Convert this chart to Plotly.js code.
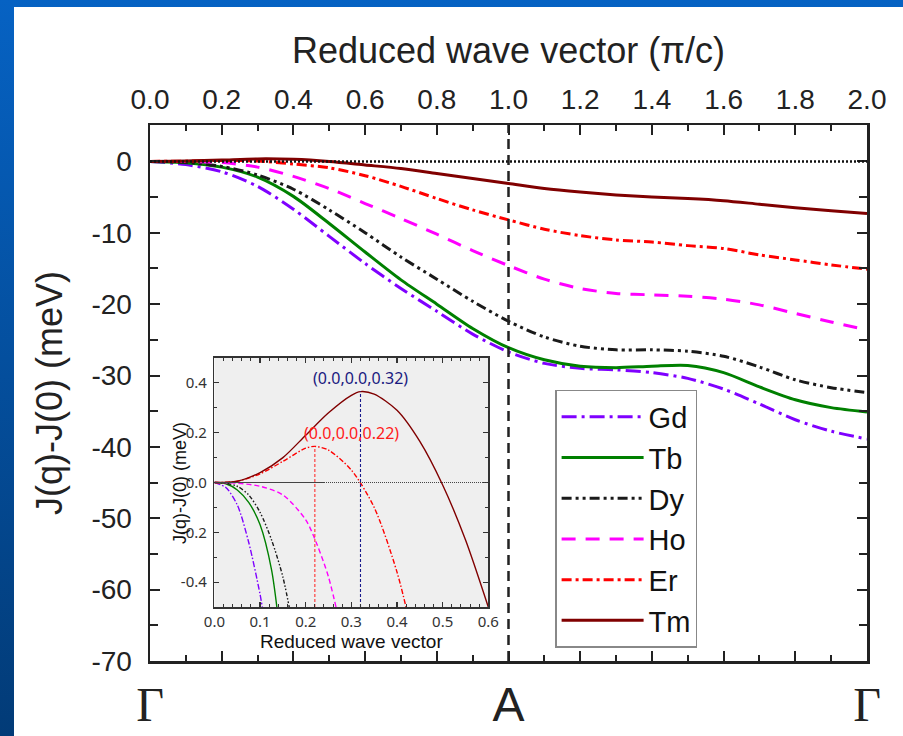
<!DOCTYPE html>
<html><head><meta charset="utf-8">
<script src="https://cdn.plot.ly/plotly-3.0.1.min.js"></script>
<style>
html,body{margin:0;padding:0;width:903px;height:736px;overflow:hidden;background:linear-gradient(180deg,#0662c3 0%,#023b77 100%);}
#chart{position:absolute;left:14px;top:7px;width:889px;height:729px;background:#fff;}
</style></head><body><div id="chart"></div>
<script>
// ---- main panel data: J(q)-J(0) in meV vs reduced wave vector (pi/c) ----
const q  = [0,0.1,0.2,0.3,0.4,0.5,0.6,0.7,0.8,0.9,1.0,1.1,1.2,1.3,1.4,1.5,1.6,1.7,1.8,1.9,2.0];
const gd = [0,-0.45,-1.45,-3.5,-6.7,-10.5,-14.3,-17.8,-21.0,-24.2,-26.7,-28.3,-29.0,-29.2,-29.6,-30.4,-31.9,-34.0,-36.2,-37.8,-38.9];
const tb = [0,-0.18,-0.8,-2.2,-4.9,-8.7,-12.7,-16.6,-20.0,-23.4,-26.1,-27.8,-28.7,-28.9,-28.7,-28.6,-29.6,-31.6,-33.4,-34.5,-35.1];
const dy = [0,-0.12,-0.7,-1.9,-3.9,-6.8,-10.0,-13.4,-16.5,-19.6,-22.4,-24.6,-25.9,-26.4,-26.4,-26.6,-27.3,-28.8,-30.6,-31.7,-32.4];
const ho = [0,-0.015,-0.16,-0.8,-2.1,-3.8,-5.9,-8.0,-10.2,-12.5,-14.6,-16.5,-17.8,-18.5,-18.7,-18.9,-19.3,-20.1,-21.3,-22.5,-23.6];
const er = [0,0.035,0.138,0.05,-0.36,-0.9,-2.0,-3.5,-5.2,-6.8,-8.2,-9.5,-10.4,-11.0,-11.3,-11.8,-12.2,-13.1,-13.8,-14.5,-15.1];
const tm = [0,0.04,0.19,0.35,0.29,-0.01,-0.5,-1.0,-1.7,-2.4,-3.1,-3.8,-4.3,-4.7,-5.0,-5.2,-5.5,-6.0,-6.5,-6.9,-7.3];

const names = ['Gd','Tb','Dy','Ho','Er','Tm'];

// ---- inset data (meV) ----
const insGdX = [0,0.025,0.05,0.075,0.1,0.11];
const insGdY = [0,-0.02,-0.09,-0.24,-0.45,-0.56];
const insTbX = [0,0.025,0.05,0.075,0.1,0.125,0.14];
const insTbY = [0,-0.005,-0.03,-0.08,-0.17,-0.35,-0.55];
const insDyX = [0,0.025,0.05,0.075,0.1,0.125,0.15,0.17];
const insDyY = [0,-0.003,-0.015,-0.05,-0.12,-0.23,-0.38,-0.56];
const insHoX = [0,0.05,0.1,0.15,0.2,0.225,0.25,0.275];
const insHoY = [0,-0.003,-0.015,-0.05,-0.15,-0.25,-0.38,-0.57];
const insErX = [0,0.05,0.1,0.15,0.2,0.22,0.25,0.3,0.35,0.4,0.43];
const insErY = [0,0.005,0.035,0.085,0.138,0.145,0.13,0.05,-0.1,-0.36,-0.58];
const insTmX = [0,0.05,0.1,0.15,0.2,0.25,0.3,0.32,0.35,0.4,0.45,0.5,0.55,0.6];
const insTmY = [0,0.005,0.04,0.1,0.19,0.28,0.35,0.365,0.355,0.29,0.165,-0.01,-0.23,-0.5];

// ---- tick labels ----
const topTickVals = [0,0.2,0.4,0.6,0.8,1.0,1.2,1.4,1.6,1.8,2.0];
const topTickText = ['0.0','0.2','0.4','0.6','0.8','1.0','1.2','1.4','1.6','1.8','2.0'];
const symPoints = ['Γ','','','','','<span style="font-family:Liberation Sans, Arial, sans-serif">A</span>','','','','','Γ'];
const yTickVals = [0,-10,-20,-30,-40,-50,-60,-70];
const yTickText = ['0','-10','-20','-30','-40','-50','-60','-70'];
const insXTickVals = [0,0.1,0.2,0.3,0.4,0.5,0.6];
const insXTickText = ['0.0','0.1','0.2','0.3','0.4','0.5','0.6'];
const insYTickVals = [-0.4,-0.2,0,0.2,0.4];
const insYTickText = ['-0.4','-0.2','0.0','0.2','0.4'];
const zoneBoundary = [1.0];

const colors = ['#7f00ff','#008000','#1a1a1a','#ff00ff','#ff0000','#800000'];
const dashes = ['15px,5px,3px,5px','solid','10px,4px,3px,4px,3px,4px','14px,10px','10px,4px,3px,4px','solid'];
const insDashes = ['6px,2px,1.5px,2px','solid','4px,2px,1.5px,2px,1.5px,2px','5px,3px','5px,2px,1.5px,2px','solid'];

const mainY = [gd,tb,dy,ho,er,tm];
const insX = [insGdX,insTbX,insDyX,insHoX,insErX,insTmX];
const insY = [insGdY,insTbY,insDyY,insHoY,insErY,insTmY];

const traces = [];
names.forEach((n,i)=>{
  traces.push({x:q, y:mainY[i], name:n, type:'scatter', mode:'lines', xaxis:'x', yaxis:'y',
    line:{color:colors[i], width:3, dash:dashes[i], shape:'spline', smoothing:0.8}});
});
// invisible carrier so the top (pi/c) axis is drawn
traces.push({x:q, y:tm, xaxis:'x2', yaxis:'y', mode:'lines', opacity:0, showlegend:false, hoverinfo:'skip', line:{width:0}});
names.forEach((n,i)=>{
  traces.push({x:insX[i], y:insY[i], name:n, type:'scatter', mode:'lines', xaxis:'x3', yaxis:'y3',
    showlegend:false, line:{color:colors[i], width:1.4, dash:insDashes[i], shape:'spline', smoothing:0.8}});
});

// peak markers in inset (Tm and Er maxima)
function peakOf(xs, ys){ let k=0; ys.forEach((v,j)=>{ if(v>ys[k]) k=j; }); return [xs[k], ys[k]]; }
const pTm = peakOf(insTmX, insTmY), pEr = peakOf(insErX, insErY);
traces.push({x:[pTm[0],pTm[0]], y:[-0.5,pTm[1]], xaxis:'x3', yaxis:'y3', mode:'lines', showlegend:false, hoverinfo:'skip',
  line:{color:'#1a1a8c', width:1.1, dash:'3px,2px'}});
traces.push({x:[pEr[0],pEr[0]], y:[-0.5,pEr[1]], xaxis:'x3', yaxis:'y3', mode:'lines', showlegend:false, hoverinfo:'skip',
  line:{color:'#ff3030', width:1.1, dash:'3px,2px'}});

const axLine = '#222';
const layout = {
  width:889, height:729,
  paper_bgcolor:'#ffffff', plot_bgcolor:'rgba(0,0,0,0)',
  margin:{l:135.5, r:36, t:118, b:75, pad:0},
  font:{family:'Liberation Sans, Arial, sans-serif', color:'#222'},
  showlegend:true,
  legend:{x:0.565, y:0.5056, xanchor:'left', yanchor:'top', bgcolor:'#fff', bordercolor:'#888', borderwidth:1.5,
    font:{size:29, color:'#111'}, itemwidth:82, traceorder:'normal'},
  xaxis:{domain:[0,1], range:[0,2], anchor:'y', tickmode:'array', tickvals:topTickVals, ticktext:symPoints,
    ticks:'inside', ticklen:10, tickwidth:2, tickcolor:axLine,
    minor:{tickmode:'linear', tick0:0, dtick:0.1, ticks:'inside', ticklen:6, tickwidth:2, tickcolor:axLine},
    showline:true, linewidth:2.5, linecolor:axLine, showgrid:false, zeroline:false,
    tickfont:{family:'Liberation Serif, Times New Roman, serif', size:48, color:'#222'}, ticklabelstandoff:0},
  xaxis2:{overlaying:'x', side:'top', anchor:'y', range:[0,2], tickmode:'array', tickvals:topTickVals, ticktext:topTickText,
    ticks:'inside', ticklen:10, tickwidth:2, tickcolor:axLine,
    minor:{tickmode:'linear', tick0:0, dtick:0.1, ticks:'inside', ticklen:6, tickwidth:2, tickcolor:axLine},
    showline:true, linewidth:2.5, linecolor:axLine, showgrid:false, zeroline:false,
    tickfont:{size:28, color:'#222'}, ticklabelstandoff:2,
    title:{text:'Reduced wave vector (π/c)', font:{size:36, color:'#222'}, standoff:10}},
  yaxis:{domain:[0,1], range:[-70,5.1], anchor:'x', tickmode:'array', tickvals:yTickVals, ticktext:yTickText,
    ticks:'inside', ticklen:10, tickwidth:2, tickcolor:axLine, mirror:'ticks',
    minor:{tickmode:'linear', tick0:0, dtick:5, ticks:'inside', ticklen:8, tickwidth:2, tickcolor:axLine},
    showline:true, linewidth:2.5, linecolor:axLine, showgrid:false, zeroline:false,
    tickfont:{size:28, color:'#222'}, ticklabelstandoff:10,
    title:{text:'J(q)-J(0) (meV)', font:{size:36, color:'#222'}, standoff:18}},
  xaxis3:{domain:[0.0899,0.4718], anchor:'y3', range:[0,0.6], tickmode:'array', tickvals:insXTickVals, ticktext:insXTickText,
    ticks:'inside', ticklen:5, tickwidth:1.2, tickcolor:'#333', mirror:'ticks',
    minor:{tickmode:'linear', tick0:0, dtick:0.02, ticks:'inside', ticklen:3, tickwidth:1, tickcolor:'#333'},
    showline:true, linewidth:1.6, linecolor:'#333', showgrid:false, zeroline:false,
    tickfont:{family:'Noto Sans, sans-serif', size:15, color:'#333'}, ticklabelstandoff:0},
  yaxis3:{domain:[0.1007,0.5653], anchor:'x3', range:[-0.5,0.5], tickmode:'array', tickvals:insYTickVals, ticktext:insYTickText,
    ticks:'inside', ticklen:5, tickwidth:1.2, tickcolor:'#333', mirror:'ticks',
    minor:{tickmode:'linear', tick0:0, dtick:0.1, ticks:'inside', ticklen:3, tickwidth:1, tickcolor:'#333'},
    showline:true, linewidth:1.6, linecolor:'#333', showgrid:false, zeroline:false,
    tickfont:{family:'Noto Sans, sans-serif', size:15, color:'#333'}, ticklabelstandoff:3},
  shapes:[
    {type:'rect', xref:'x3 domain', yref:'y3 domain', x0:0, x1:1, y0:0, y1:1, fillcolor:'#efefef', line:{width:0}, layer:'below'},
    {type:'line', xref:'x3', yref:'y3', x0:0, x1:0.24, y0:0, y1:0, line:{color:'#444', width:1}},
    {type:'line', xref:'x3', yref:'y3', x0:0.24, x1:0.6, y0:0, y1:0, line:{color:'#444', width:1, dash:'1px,1px'}},
    {type:'line', xref:'x', yref:'y', x0:q[0], x1:q[q.length-1], y0:0, y1:0, line:{color:'#111', width:2.5, dash:'2px,2px'}},
    {type:'line', xref:'x', yref:'paper', x0:zoneBoundary[0], x1:zoneBoundary[0], y0:0, y1:1, line:{color:'#222', width:2.5, dash:'10px,6px'}}
  ],
  annotations:[
    {xref:'x3', yref:'y3', x:pTm[0], y:pTm[1], text:'(0.0,0.0,'+pTm[0].toFixed(2)+')', showarrow:false,
     xanchor:'center', yanchor:'bottom', yshift:1, font:{family:'Noto Sans, sans-serif', size:16, color:'#1a1a80'}},
    {xref:'x3', yref:'y3', x:pEr[0], y:pEr[1], text:'(0.0,0.0,'+pEr[0].toFixed(2)+')', showarrow:false,
     xanchor:'center', yanchor:'bottom', xshift:37, yshift:0, font:{family:'Noto Sans, sans-serif', size:16, color:'#ff1a1a'}},
    {xref:'x3 domain', yref:'y3 domain', x:0.5, y:0, text:'Reduced wave vector', showarrow:false,
     xanchor:'center', yanchor:'middle', yshift:-34, font:{size:19, color:'#111'}},
    {xref:'x3 domain', yref:'y3 domain', x:0, y:0.5, text:'J(q)-J(0) (meV)', showarrow:false, textangle:-90,
     xanchor:'center', yanchor:'middle', xshift:-35, font:{size:18, color:'#111'}}
  ]
};

Plotly.newPlot('chart', traces, layout, {displayModeBar:false, staticPlot:true});
</script></body></html>
